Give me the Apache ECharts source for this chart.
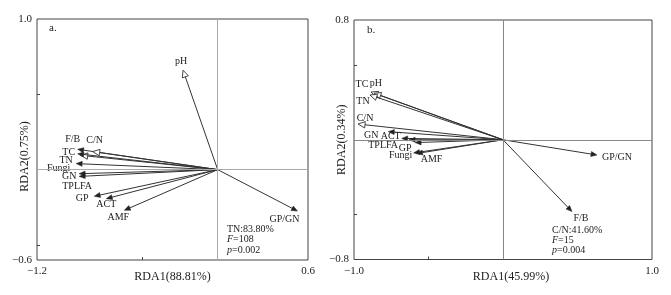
<!DOCTYPE html>
<html>
<head>
<meta charset="utf-8">
<script src="https://cdn.jsdelivr.net/npm/echarts@6/dist/echarts.min.js"></script>
<style>
  html, body { margin: 0; padding: 0; background: #fff; }
  #chart { width: 671px; height: 295px; }
</style>
</head>
<body>
<div id="chart"></div>
<script>
// 图 a
const namesA = ['pH', 'F/B', 'C/N', 'TC', 'Fungi', 'TN', 'GN', 'TPLFA', 'GP', 'ACT', 'AMF', 'GP/GN'];
const rda1A = [-0.23, -0.93, -0.83, -0.91, -0.93, -0.94, -0.92, -0.92, -0.82, -0.74, -0.62, 0.53];
const rda2A = [0.66, 0.135, 0.12, 0.095, 0.105, 0.04, -0.027, -0.045, -0.177, -0.193, -0.27, -0.275];
const openA = ['pH', 'C/N', 'TC'];
const statsA = ['TN:83.80%', '{i|F}=108', '{i|p}=0.002'];

// 图 b
const namesB = ['TC', 'pH', 'TN', 'C/N', 'GN', 'ACT', 'TPLFA', 'GP', 'Fungi', 'AMF', 'GP/GN', 'F/B'];
const rda1B = [-0.886, -0.866, -0.893, -0.973, -0.77, -0.68, -0.63, -0.59, -0.6, -0.58, 0.631, 0.463];
const rda2B = [0.319, 0.311, 0.299, 0.105, 0.054, 0.009, 0.0, -0.019, -0.088, -0.092, -0.102, -0.48];
const openB = ['TC', 'pH', 'TN', 'C/N'];
const statsB = ['C/N:41.60%', '{i|F}=15', '{i|p}=0.004'];

// 标签相对箭头端点的偏移 (px)
const labelOffA = {
  'pH': [-2, -9], 'F/B': [-5, -10], 'C/N': [2, -11], 'TC': [-12, -3], 'Fungi': [-19, 15],
  'TN': [-10, -3], 'GN': [-10, 3], 'TPLFA': [-2, 10], 'GP': [-12, 2], 'ACT': [0, 6],
  'AMF': [-6, 7], 'GP/GN': [-13, 8]
};
const labelOffB = {
  'TC': [-9, -8], 'pH': [2, -10], 'TN': [-7, 6], 'C/N': [7, -6], 'GN': [-17, 4],
  'ACT': [-11, -2], 'TPLFA': [-26, 6], 'GP': [-10, 5.5], 'Fungi': [-13, 2], 'AMF': [15, 6],
  'GP/GN': [20, 2], 'F/B': [9, 7]
};

const FONT = 'Liberation Serif';
const INK = '#222';

const chart = echarts.init(document.getElementById('chart'));

function makeRender(names, open, offs) {
  return function (params, api) {
    const name = names[params.dataIndex];
    const o = api.coord([0, 0]);
    const t = api.coord([api.value(0), api.value(1)]);
    const dx = t[0] - o[0], dy = t[1] - o[1];
    const len = Math.sqrt(dx * dx + dy * dy);
    const ux = dx / len, uy = dy / len;
    const px = -uy, py = ux;
    const off = offs[name] || [0, 0];
    const isOpen = open.indexOf(name) >= 0;
    const hl = isOpen ? 7 : 6, hw = isOpen ? 3.2 : 2.5;
    const bx = t[0] - ux * hl, by = t[1] - uy * hl;
    const children = [
      {
        type: 'line',
        shape: { x1: o[0], y1: o[1], x2: bx, y2: by },
        style: { stroke: '#333', lineWidth: 1 }
      },
      {
        type: 'polygon',
        shape: { points: [[t[0], t[1]], [bx + px * hw, by + py * hw], [bx - px * hw, by - py * hw]] },
        style: isOpen
          ? { fill: '#fff', stroke: '#333', lineWidth: 0.9 }
          : { fill: '#222', stroke: '#222', lineWidth: 0.5 }
      },
      {
        type: 'text',
        x: t[0] + off[0],
        y: t[1] + off[1],
        style: {
          text: name, fill: INK, fontFamily: FONT, fontSize: 10,
          align: 'center', verticalAlign: 'middle'
        }
      }
    ];
    return { type: 'group', children: children };
  };
}

const fmt = v => (v < 0 ? '\u2212' + Math.abs(v).toFixed(1) : v.toFixed(1));

function axisX(idx, min, max, name, namePad) {
  return {
    gridIndex: idx, type: 'value', min: min, max: max,
    splitLine: { show: false },
    axisLine: { show: false, onZero: false },
    axisTick: { show: true, inside: true, length: 3, customValues: [-0.5], lineStyle: { color: '#444' } },
    axisLabel: { customValues: [min, max], margin: 6, color: INK, fontFamily: FONT, fontSize: 11, formatter: fmt },
    name: name, nameLocation: 'middle', nameGap: 11, nameMoveOverlap: false,
    nameTextStyle: { color: INK, fontFamily: FONT, fontSize: 12, padding: namePad }
  };
}

function axisY(idx, min, max, name, namePad) {
  return {
    gridIndex: idx, type: 'value', min: min, max: max,
    splitLine: { show: false },
    axisLine: { show: false, onZero: false },
    axisTick: { show: true, inside: true, length: 3, customValues: [0.5, -0.5].filter(v => v > min && v < max), lineStyle: { color: '#444' } },
    axisLabel: { customValues: [min, max], margin: 5, color: INK, fontFamily: FONT, fontSize: 11, formatter: fmt },
    name: name, nameLocation: 'middle', nameGap: 6, nameMoveOverlap: false,
    nameTextStyle: { color: INK, fontFamily: FONT, fontSize: 12, padding: namePad }
  };
}

function zeroLines(color) {
  return {
    silent: true, symbol: 'none', animation: false,
    label: { show: false },
    lineStyle: { color: color, type: 'solid', width: 1 },
    data: [{ xAxis: 0 }, { yAxis: 0 }]
  };
}

function statText(lines, left, top) {
  return lines.map((s, i) => ({
    type: 'text', left: left, top: top + i * 10.3,
    style: {
      text: s, fill: INK, fontFamily: FONT, fontSize: 10,
      rich: { i: { fontStyle: 'italic', fontFamily: FONT, fontSize: 10, fill: INK } }
    }
  }));
}

const option = {
  animation: false,
  grid: [
    { left: 37, top: 19, width: 271, height: 241, show: true, borderColor: '#444', borderWidth: 1, containLabel: false },
    { left: 354, top: 20, width: 298, height: 239.5, show: true, borderColor: '#444', borderWidth: 1, containLabel: false }
  ],
  xAxis: [
    axisX(0, -1.2, 0.6, 'RDA1(88.81%)', [0, 0, 0, 0]),
    axisX(1, -1.0, 1.0, 'RDA1(45.99%)', [0, 0, 0, 16])
  ],
  yAxis: [
    axisY(0, -0.6, 1.0, 'RDA2(0.75%)', [0, 34, 0, 0]),
    axisY(1, -0.8, 0.8, 'RDA2(0.34%)', [0, 0, 0, 0])
  ],
  series: [
    {
      type: 'custom', xAxisIndex: 0, yAxisIndex: 0,
      data: rda1A.map((v, i) => [v, rda2A[i]]),
      renderItem: makeRender(namesA, openA, labelOffA),
      markLine: zeroLines('#aaa'),
      z: 3
    },
    {
      type: 'custom', xAxisIndex: 1, yAxisIndex: 1,
      data: rda1B.map((v, i) => [v, rda2B[i]]),
      renderItem: makeRender(namesB, openB, labelOffB),
      markLine: zeroLines('#888'),
      z: 3
    }
  ],
  graphic: [
    { type: 'text', left: 49, top: 23, style: { text: 'a.', fill: INK, fontFamily: FONT, fontSize: 11 } },
    { type: 'text', left: 367, top: 25, style: { text: 'b.', fill: INK, fontFamily: FONT, fontSize: 11 } }
  ].concat(statText(statsA, 227, 224.5), statText(statsB, 552, 225))
};

chart.setOption(option);
</script>
</body>
</html>
